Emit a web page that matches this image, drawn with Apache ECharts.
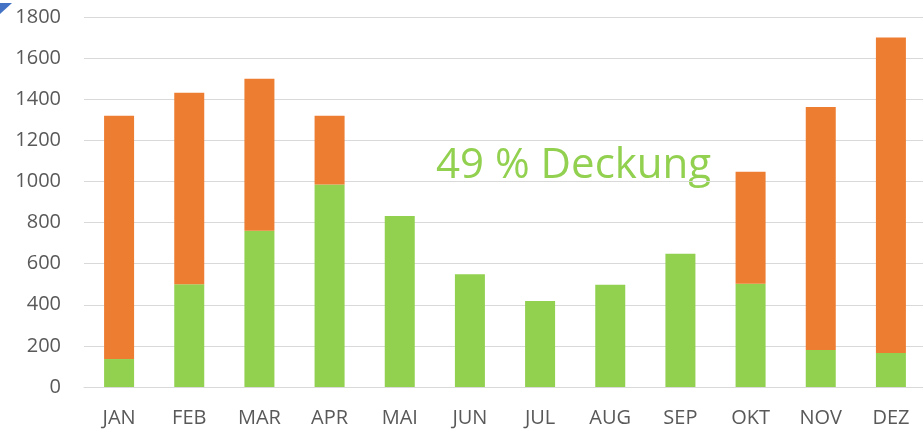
<!DOCTYPE html>
<html>
<head>
<meta charset="utf-8">
<script src="https://cdn.jsdelivr.net/npm/echarts@6/dist/echarts.min.js"></script>
<style>
  html, body { margin: 0; padding: 0; background: #fff; }
  #chart { width: 923px; height: 429px; }
</style>
</head>
<body>
<div id="chart"></div>
<script>
// months, covered part (green) and remaining part (orange)
const months = ['JAN', 'FEB', 'MAR', 'APR', 'MAI', 'JUN', 'JUL', 'AUG', 'SEP', 'OKT', 'NOV', 'DEZ'];
const covered = [136, 500, 760, 985, 832, 548, 418, 497, 648, 502, 180, 165];
const rest = [1184, 932, 740, 335, 0, 0, 0, 0, 0, 545, 1182, 1535];
const coverageText = '49 % Deckung';

const chart = echarts.init(document.getElementById('chart'), null, { renderer: 'canvas' });

chart.setOption({
  animation: false,
  textStyle: { fontFamily: 'Open Sans' },
  grid: { left: 84, width: 842, top: 17, bottom: 42, containLabel: false, outerBoundsMode: 'none' },
  xAxis: {
    type: 'category',
    data: months,
    axisLine: { show: true, lineStyle: { color: '#d9d9d9', width: 1 } },
    axisTick: { show: false },
    axisLabel: { color: '#595959', fontSize: 20, margin: 21 }
  },
  yAxis: {
    type: 'value',
    min: 0,
    max: 1800,
    interval: 200,
    axisLine: { show: false },
    axisTick: { show: false },
    splitLine: { lineStyle: { color: '#d9d9d9', width: 1 } },
    axisLabel: { color: '#595959', fontSize: 20, margin: 23, formatter: v => String(v) }
  },
  series: [
    {
      name: 'covered',
      type: 'bar',
      stack: 'total',
      data: covered,
      barWidth: 30,
      itemStyle: { color: '#92D050' }
    },
    {
      name: 'rest',
      type: 'bar',
      stack: 'total',
      data: rest,
      barWidth: 30,
      itemStyle: { color: '#ED7D31' }
    }
  ],
  graphic: [
    {
      type: 'text',
      left: 436,
      top: 145,
      style: { text: coverageText, fill: '#92D050', fontSize: 42, fontFamily: 'Open Sans' }
    },
    {
      type: 'polygon',
      shape: { points: [[0, 3], [12, 3], [0, 14]] },
      style: { fill: '#4472C4' }
    }
  ]
});
</script>
</body>
</html>
